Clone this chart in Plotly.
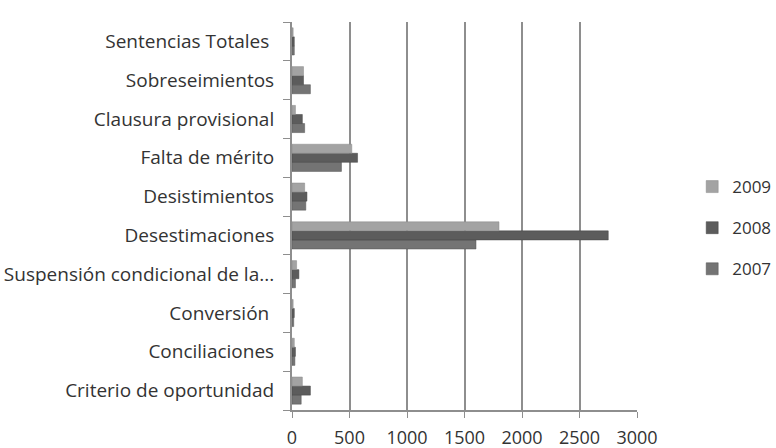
import plotly.graph_objects as go

categories = ["Criterio de oportunidad", "Conciliaciones", "Conversión\u00a0",
              "Suspensión condicional de la...", "Desestimaciones", "Desistimientos",
              "Falta de mérito", "Clausura provisional", "Sobreseimientos", "Sentencias Totales\u00a0"]
v2007 = [80, 25, 15, 30, 1600, 120, 430, 110, 160, 20]
v2008 = [160, 30, 20, 60, 2750, 130, 570, 90, 100, 20]
v2009 = [90, 20, 10, 40, 1800, 110, 520, 30, 100, 10]
x_ticks = [0, 500, 1000, 1500, 2000, 2500, 3000]

fig = go.Figure()
fig.add_trace(go.Bar(y=categories, x=v2007, name="2007", orientation="h",
                     legendgroup="a", legendrank=3,
                     marker=dict(color="#747474", line=dict(color="#555555", width=0.5))))
fig.add_trace(go.Bar(y=categories, x=v2008, name="2008", orientation="h",
                     legendgroup="b", legendrank=2,
                     marker=dict(color="#5c5c5c", line=dict(color="#444444", width=0.5))))
fig.add_trace(go.Bar(y=categories, x=v2009, name="2009", orientation="h",
                     legendgroup="c", legendrank=1,
                     marker=dict(color="#a3a3a3", line=dict(color="#888888", width=0.5))))

fig.update_layout(
    width=776, height=448,
    margin=dict(l=292, r=139, t=22, b=38, autoexpand=False),
    paper_bgcolor="white", plot_bgcolor="white",
    barmode="group", bargap=0.3, bargroupgap=0.0,
    font=dict(family="Open Sans", size=18, color="#333333"),
    legend=dict(xref="container", yref="container", x=0.892, y=0.491,
                xanchor="left", yanchor="middle",
                traceorder="grouped", font=dict(size=17, color="#333333"),
                itemwidth=30, tracegroupgap=16),
    xaxis=dict(range=[0, 3000], tickvals=x_ticks, showgrid=True, automargin=False,
               gridcolor="#8e8e8e", gridwidth=2, zeroline=False,
               showline=True, linecolor="#8e8e8e", linewidth=2,
               ticks="outside", ticklen=6, tickcolor="#8e8e8e",
               ticklabelstandoff=4,
               tickfont=dict(size=18, color="#333333")),
    yaxis=dict(showline=True, linecolor="#8e8e8e", linewidth=2, automargin=False,
               ticks="outside", ticklen=7, tickcolor="#8e8e8e",
               tickson="boundaries", showgrid=False, ticklabelstandoff=12,
               tickfont=dict(size=19, color="#333333")),
)

fig.write_html("out.html", config={"displayModeBar": False},
               post_script="document.body.style.margin='0';")
